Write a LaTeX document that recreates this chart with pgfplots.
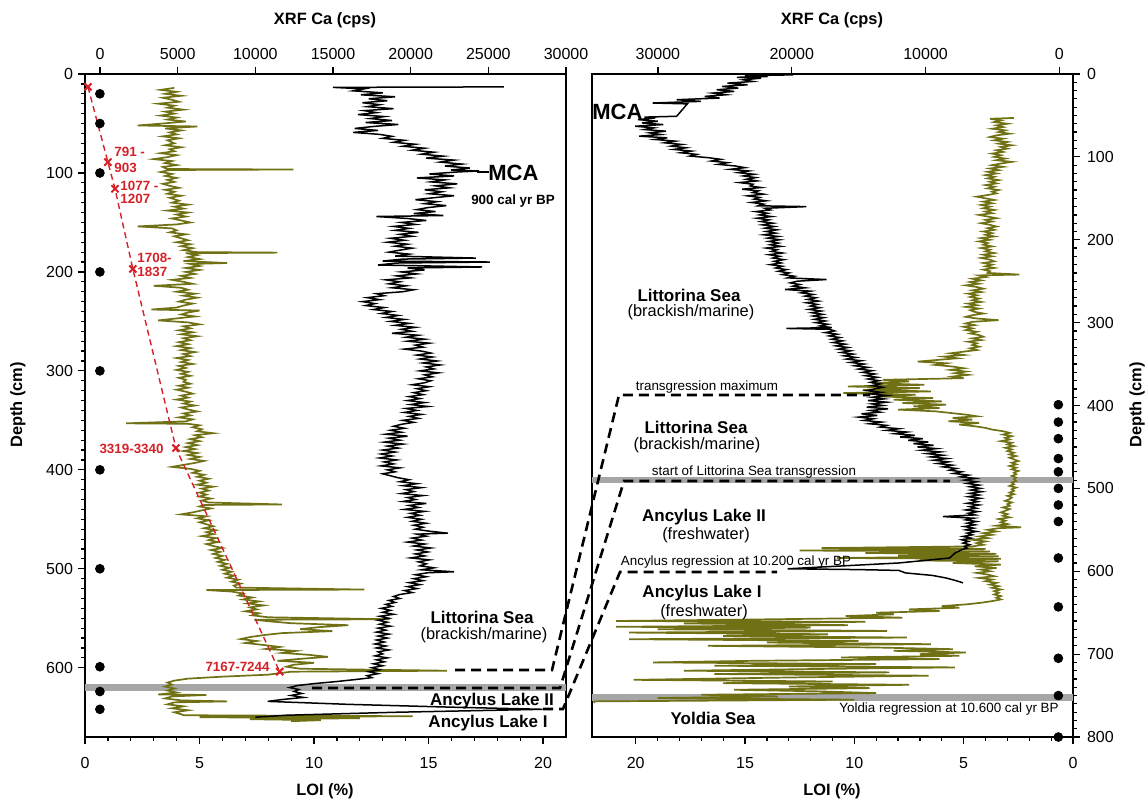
\documentclass[border=0pt]{standalone}
\usepackage{pgfplots}
\pgfplotsset{compat=1.18}
\usepackage{pgfplotstable}
\usepackage{fontspec}
\setmainfont{Liberation Sans}
\definecolor{loi}{RGB}{112,112,20}
\definecolor{agered}{RGB}{214,32,40}
\definecolor{band}{RGB}{166,166,166}

% ---------------- data (d = depth in cm, v = value) ----------------
\pgfplotstableread[row sep=\\]{
d v\\
14 3.9\\ 16 3.3\\ 18 4.0\\ 20 3.5\\ 22 4.2\\ 24 3.4\\ 26 3.8\\ 28 4.1\\ 30 3.2\\ 32 3.9\\ 34 3.6\\ 36 4.3\\ 38 3.5\\ 40 3.9\\ 42 3.3\\ 44 4.0\\ 46 3.6\\ 48 4.4\\ 50 3.4\\ 52 2.3\\ 53 4.9\\ 55 3.5\\ 57 4.2\\ 59 3.7\\ 61 4.0\\ 63 3.4\\ 65 4.1\\ 67 3.6\\ 70 3.9\\ 72 3.5\\ 74 4.2\\ 76 3.7\\ 78 3.9\\ 80 3.3\\ 82 4.0\\ 84 3.6\\ 86 3.0\\ 88 3.8\\ 90 3.5\\ 92 4.0\\ 94 3.4\\ 96 3.6\\ 96.5 9.1\\ 97 3.7\\ 99 3.3\\
101 3.8\\ 103 3.5\\ 105 4.0\\ 107 3.6\\ 109 3.9\\ 111 3.4\\ 113 3.7\\ 115 4.1\\ 117 3.5\\ 119 3.9\\ 121 3.6\\ 123 4.2\\ 125 3.7\\ 128 4.1\\ 130 3.8\\ 132 4.5\\ 134 3.9\\ 136 4.3\\ 138 3.6\\ 140 4.5\\ 142 4.0\\ 144 4.4\\ 146 3.8\\ 148 4.2\\ 150 4.6\\ 152 4.0\\ 154 2.3\\ 156 3.8\\ 158 4.0\\ 160 3.7\\ 162 4.4\\ 164 3.9\\ 166 4.2\\ 168 4.5\\ 170 4.0\\ 172 4.6\\ 174 4.2\\ 176 4.7\\ 178 4.3\\ 180 4.9\\ 180.5 8.4\\ 181 4.4\\ 183 4.9\\ 185 4.5\\ 187 5.0\\ 189 4.3\\ 191 6.2\\ 192 4.6\\ 194 5.0\\ 196 4.4\\ 198 5.0\\
200 4.4\\ 202 4.8\\ 204 4.2\\ 206 4.6\\ 208 3.8\\ 210 4.3\\ 212 4.7\\ 214 3.0\\ 216 4.2\\ 218 4.5\\ 220 4.0\\ 222 4.8\\ 224 4.3\\ 226 4.9\\ 228 4.4\\ 230 4.1\\ 232 4.7\\ 234 4.3\\ 236 4.0\\ 238 2.9\\ 239 5.0\\ 241 4.5\\ 243 4.2\\ 245 4.8\\ 247 4.0\\ 249 3.2\\ 251 4.5\\ 253 5.0\\ 255 4.3\\ 257 4.6\\ 259 4.1\\ 261 4.7\\ 263 4.2\\ 265 4.9\\ 267 4.3\\ 269 4.6\\ 271 4.1\\ 273 4.5\\ 275 4.0\\ 277 4.6\\ 279 4.2\\ 281 4.8\\ 283 4.3\\ 285 4.6\\ 287 4.0\\ 289 4.5\\ 291 4.2\\ 293 4.7\\ 295 4.1\\ 297 4.4\\ 299 4.0\\
301 4.5\\ 303 4.2\\ 305 4.6\\ 307 4.1\\ 309 4.4\\ 311 4.3\\ 313 4.6\\ 315 4.1\\ 317 4.5\\ 319 4.0\\ 321 4.4\\ 323 4.7\\ 325 4.2\\ 327 4.5\\ 329 4.0\\ 331 4.6\\ 333 4.3\\ 335 4.8\\ 337 4.2\\ 339 4.5\\ 341 4.9\\ 343 4.3\\ 345 4.6\\ 347 4.1\\ 349 4.7\\ 351 4.4\\ 353 1.8\\ 353.5 4.5\\ 355 5.0\\ 357 4.7\\ 359 5.1\\ 361 4.9\\ 363 5.6\\ 365 4.8\\ 367 5.1\\ 369 4.6\\ 371 5.0\\ 373 4.5\\ 375 4.9\\ 377 4.4\\ 379 4.8\\ 381 4.3\\ 383 4.9\\ 385 4.5\\ 387 5.0\\ 389 4.6\\ 391 5.2\\ 393 4.8\\ 395 4.3\\ 397 3.8\\ 399 4.6\\
401 5.0\\ 403 4.7\\ 405 5.2\\ 407 4.9\\ 409 5.4\\ 411 5.0\\ 413 5.3\\ 415 4.9\\ 417 5.6\\ 419 5.1\\ 421 5.4\\ 423 5.0\\ 425 5.3\\ 427 5.0\\ 429 5.5\\ 431 5.1\\ 433 5.4\\ 435 8.6\\ 435.5 5.2\\ 437 5.0\\ 439 5.5\\ 441 5.1\\ 443 4.7\\ 445 4.2\\ 447 5.3\\ 449 4.9\\ 451 5.4\\ 453 5.0\\ 455 5.3\\ 457 5.6\\ 459 5.2\\ 461 5.7\\ 463 5.3\\ 465 5.6\\ 467 5.1\\ 469 5.7\\ 471 5.4\\ 473 5.8\\ 475 5.3\\ 477 5.6\\ 479 6.0\\ 481 5.5\\ 483 5.9\\ 485 5.6\\ 487 6.0\\ 489 5.7\\ 491 6.1\\ 493 5.8\\ 495 6.2\\ 497 5.9\\ 499 6.3\\
501 6.0\\ 503 6.4\\ 505 6.1\\ 507 6.5\\ 509 6.2\\ 511 6.7\\ 513 6.4\\ 515 6.8\\ 517 6.5\\ 519 6.6\\ 521 12.2\\ 521.5 5.3\\ 523 6.4\\ 525 6.9\\ 527 6.7\\ 529 7.3\\ 531 6.9\\ 533 7.6\\ 535 7.1\\ 537 7.8\\ 539 7.2\\ 541 7.5\\ 543 7.0\\ 545 7.6\\ 547 7.3\\ 549 8.0\\ 551 13.3\\ 551.5 7.4\\ 553 8.0\\ 555 9.0\\ 557 11.5\\ 559 10.2\\ 561 9.4\\ 563 10.8\\ 565 8.6\\ 567 7.8\\ 569 7.2\\ 571 6.8\\ 573 7.5\\ 575 7.0\\ 577 7.8\\ 579 8.5\\ 581 7.9\\ 583 9.2\\ 585 8.6\\ 587 9.8\\ 589 10.6\\ 591 9.4\\ 593 8.4\\ 595 10.0\\ 597 9.1\\ 599 8.8\\
601 9.4\\ 603 15.8\\ 604 9.0\\ 607 8.0\\ 609 6.0\\ 611 4.5\\ 613 3.9\\ 615 3.6\\ 617 3.8\\ 619 3.5\\ 621 3.9\\ 623 3.6\\ 625 4.0\\ 627 3.2\\ 627.5 5.3\\ 629 3.8\\ 631 3.5\\ 633 4.2\\ 634 6.2\\ 635 3.9\\ 637 3.6\\ 639 4.3\\ 641 3.8\\ 643 4.5\\ 645 3.9\\ 647 4.2\\ 648 4.3\\ 649 14.3\\ 650 5.0\\ 651 12.0\\ 652 7.2\\ 653 10.3\\ 654 9.0\\
}\loiL

\pgfplotstableread[row sep=\\]{
d v\\
13 26000\\ 13.5 15000\\ 15 17000\\ 17 16300\\ 19 18200\\ 21 16800\\ 23 19000\\ 25 17300\\ 27 18500\\ 29 16900\\ 31 18000\\ 33 17200\\ 35 18900\\ 37 17000\\ 39 17800\\ 41 16600\\ 43 18300\\ 45 17400\\ 47 18800\\ 49 17100\\ 51 19200\\ 53 17600\\ 55 16400\\ 57 17900\\ 59 16300\\ 61 18000\\ 63 18800\\ 65 18200\\ 67 19600\\ 69 18900\\ 71 20300\\ 73 19500\\ 75 20900\\ 77 20100\\ 79 21500\\ 81 20700\\ 83 22100\\ 85 21000\\ 87 22800\\ 89 21900\\ 91 23300\\ 93 22200\\ 95 23800\\ 97 22600\\ 98 24400\\ 99 23000\\
101 21200\\ 103 22800\\ 105 20400\\ 107 22200\\ 109 21300\\ 111 23000\\ 113 21600\\ 115 22500\\ 117 20900\\ 119 22000\\ 121 21200\\ 123 22800\\ 125 21500\\ 127 20300\\ 129 21700\\ 131 20900\\ 133 22300\\ 135 21100\\ 137 20400\\ 139 21600\\ 141 20200\\ 143 22100\\ 144 17800\\ 146 19800\\ 148 21000\\ 150 19400\\ 152 20300\\ 154 18900\\ 156 19900\\ 158 19000\\ 160 20500\\ 162 19300\\ 164 20100\\ 166 18700\\ 168 19600\\ 170 18500\\ 172 19800\\ 174 19000\\ 176 20100\\ 178 19300\\ 180 18600\\ 182 19900\\ 184 19000\\ 186 24200\\ 187 19500\\ 189 18200\\ 190 25100\\ 191 19100\\ 193 17900\\ 195 24600\\ 196 19800\\ 198 20900\\
200 19400\\ 202 20400\\ 204 19100\\ 206 20000\\ 208 18400\\ 210 19300\\ 212 18600\\ 214 19700\\ 216 18800\\ 218 20200\\ 220 19500\\ 222 17800\\ 224 18300\\ 226 17200\\ 228 18000\\ 230 16900\\ 232 17700\\ 234 17100\\ 236 18300\\ 238 17600\\ 240 18800\\ 242 18100\\ 244 19200\\ 246 18400\\ 248 19600\\ 250 18700\\ 252 19900\\ 254 19000\\ 256 20300\\ 258 19400\\ 260 20100\\ 262 18800\\ 264 20500\\ 266 19700\\ 268 20900\\ 270 19800\\ 272 21200\\ 274 20300\\ 276 20800\\ 278 19600\\ 280 20700\\ 282 21300\\ 284 20400\\ 286 21400\\ 288 20600\\ 290 21700\\ 292 20800\\ 294 21900\\ 296 21000\\ 298 21500\\
300 20600\\ 302 21800\\ 304 20900\\ 306 21400\\ 308 20500\\ 310 21300\\ 312 20900\\ 314 20100\\ 316 21200\\ 318 20400\\ 320 21000\\ 322 20200\\ 324 20800\\ 326 19900\\ 328 20600\\ 330 19800\\ 332 20900\\ 334 20000\\ 336 21100\\ 338 19700\\ 340 20400\\ 342 19600\\ 344 20700\\ 346 19900\\ 348 20500\\ 350 19500\\ 352 20200\\ 354 19400\\ 356 18900\\ 358 19600\\ 360 18700\\ 362 19400\\ 364 18400\\ 366 19800\\ 368 18600\\ 370 19300\\ 372 18300\\ 374 19500\\ 376 18500\\ 378 19200\\ 380 18200\\ 382 19000\\ 384 18100\\ 386 18800\\ 388 18000\\ 390 19100\\ 392 18300\\ 394 18900\\ 396 18100\\ 398 19300\\
400 18500\\ 402 19000\\ 404 18200\\ 406 18700\\ 408 19200\\ 410 19900\\ 412 19300\\ 414 20400\\ 416 19500\\ 418 20700\\ 420 19700\\ 422 20200\\ 424 19400\\ 426 20800\\ 428 19800\\ 430 20300\\ 432 19500\\ 434 21000\\ 436 19900\\ 438 20500\\ 440 19600\\ 442 20900\\ 444 20000\\ 446 20600\\ 448 19800\\ 450 20700\\ 452 20100\\ 454 21000\\ 456 20200\\ 458 20800\\ 460 20300\\ 462 21200\\ 464 22400\\ 465 20400\\ 467 21000\\ 469 20100\\ 471 20700\\ 473 19800\\ 475 20900\\ 477 20200\\ 479 21300\\ 481 20400\\ 483 21100\\ 485 20300\\ 487 20900\\ 489 20000\\ 491 21200\\ 493 20500\\ 495 21000\\ 497 20600\\ 499 21500\\
501 20700\\ 503 22800\\ 504 21100\\ 506 20300\\ 508 21000\\ 510 20200\\ 512 20800\\ 514 19900\\ 516 20600\\ 518 19800\\ 520 20400\\ 522 19600\\ 524 20100\\ 526 19300\\ 528 18900\\ 530 19300\\ 532 18600\\ 534 19000\\ 536 18400\\ 538 18800\\ 540 18100\\ 542 18700\\ 544 18200\\ 546 18900\\ 548 18000\\ 550 18600\\ 552 17900\\ 554 18500\\ 556 18000\\ 558 18700\\ 560 17900\\ 562 18400\\ 564 17800\\ 566 18600\\ 568 17900\\ 570 18500\\ 572 17800\\ 574 18300\\ 576 17700\\ 578 18400\\ 580 17800\\ 582 18600\\ 584 17900\\ 586 18200\\ 588 17700\\ 590 18500\\ 592 17800\\ 594 18300\\ 596 17600\\ 598 18200\\
600 17500\\ 602 18000\\ 604 17300\\ 606 17900\\ 608 17200\\ 610 17500\\ 612 16400\\ 614 15200\\ 616 13800\\ 618 12700\\ 620 12200\\ 622 12800\\ 624 12500\\ 626 13000\\ 628 12300\\ 630 13100\\ 632 11800\\ 634 10800\\ 637 16000\\ 640 23000\\ 642 28500\\ 645 19000\\ 648 12000\\ 650 10000\\
}\xrfL

\pgfplotstableread[row sep=\\]{
d v\\
13 0.13\\ 89 1.0\\ 116 1.31\\ 197 2.09\\ 378 3.97\\ 604 8.5\\
}\ageL

\pgfplotstableread[row sep=\\]{
d v\\
20 0.65\\ 50 0.65\\ 100 0.65\\ 200 0.65\\ 300 0.65\\ 400 0.65\\ 500 0.65\\ 599 0.65\\ 624 0.65\\ 642 0.65\\
}\dotL

\pgfplotstableread[row sep=\\]{
d v\\
53 2.7\\ 54 3.8\\ 56 3.3\\ 58 3.6\\ 60 3.0\\ 62 3.5\\ 64 3.2\\ 66 3.7\\ 68 3.1\\ 70 3.4\\ 72 2.9\\ 74 3.5\\ 76 3.8\\ 78 3.2\\ 80 3.6\\ 82 3.0\\ 84 3.4\\ 86 2.8\\ 88 3.3\\ 90 3.0\\ 92 3.5\\ 94 3.2\\ 96 3.7\\ 98 3.3\\
100 3.6\\ 102 3.1\\ 104 3.5\\ 106 2.8\\ 108 3.3\\ 110 3.7\\ 112 3.2\\ 114 3.8\\ 116 3.4\\ 118 3.9\\ 120 3.5\\ 122 4.0\\ 124 3.6\\ 126 3.9\\ 128 3.4\\ 130 3.8\\ 132 3.5\\ 134 4.0\\ 136 3.6\\ 138 3.9\\ 140 3.4\\ 142 3.7\\ 144 3.5\\ 146 3.9\\ 148 4.4\\ 150 4.0\\ 152 3.6\\ 154 4.1\\ 156 3.7\\ 158 4.2\\ 160 3.8\\ 162 4.1\\ 164 3.6\\ 166 4.0\\ 168 3.7\\ 170 4.3\\ 172 3.9\\ 174 3.5\\ 176 4.0\\ 178 3.7\\ 180 4.2\\ 182 3.8\\ 184 3.5\\ 186 3.9\\ 188 3.6\\ 190 4.1\\ 192 3.7\\ 194 4.0\\ 196 3.6\\ 198 4.2\\
200 3.8\\ 202 4.3\\ 204 3.9\\ 206 4.1\\ 208 3.7\\ 210 4.2\\ 212 3.8\\ 214 4.0\\ 216 3.6\\ 218 4.1\\ 220 3.7\\ 222 4.2\\ 224 3.8\\ 226 3.6\\ 228 4.1\\ 230 3.7\\ 232 4.0\\ 234 3.6\\ 236 4.1\\ 238 3.8\\ 240 3.9\\ 242 2.45\\ 243 4.3\\ 245 4.0\\ 247 4.6\\ 249 4.2\\ 251 4.7\\ 253 4.3\\ 255 4.9\\ 257 4.4\\ 259 4.1\\ 261 4.6\\ 263 4.2\\ 265 4.8\\ 267 4.4\\ 269 4.7\\ 271 4.3\\ 273 4.6\\ 275 4.2\\ 277 4.8\\ 279 4.4\\ 281 4.9\\ 283 4.3\\ 285 4.7\\ 287 4.5\\ 289 4.1\\ 291 4.6\\ 293 4.9\\ 295 4.4\\ 297 3.4\\ 299 4.6\\
301 4.9\\ 303 4.5\\ 305 5.0\\ 307 4.6\\ 309 4.9\\ 311 4.4\\ 313 4.7\\ 315 4.3\\ 317 4.1\\ 319 4.6\\ 321 4.2\\ 323 4.8\\ 325 4.4\\ 327 4.6\\ 329 4.3\\ 331 4.7\\ 333 4.4\\ 335 5.0\\ 337 5.6\\ 339 5.0\\ 341 5.9\\ 343 5.3\\ 345 6.2\\ 347 7.1\\ 349 5.8\\ 351 6.3\\ 353 5.5\\ 355 5.0\\ 357 5.6\\ 359 4.9\\ 361 5.4\\ 363 4.8\\ 365 5.5\\ 367 5.0\\ 369 8.7\\ 371 7.5\\ 373 9.2\\ 375 6.8\\ 377 10.3\\ 379 7.0\\ 381 9.6\\ 383 6.5\\ 385 10.5\\ 387 7.2\\ 389 9.0\\ 391 6.4\\ 393 8.2\\ 395 6.0\\ 397 7.8\\ 399 5.8\\
401 7.3\\ 403 6.1\\ 405 8.0\\ 407 6.3\\ 409 5.6\\ 411 4.9\\ 413 4.4\\ 415 5.5\\ 417 4.6\\ 419 5.7\\ 421 4.3\\ 423 5.2\\ 425 4.5\\ 427 4.0\\ 429 3.7\\ 431 3.2\\ 433 2.9\\ 435 3.2\\ 437 2.8\\ 439 3.1\\ 441 2.9\\ 443 3.3\\ 445 2.8\\ 447 3.0\\ 449 2.7\\ 451 3.1\\ 453 2.8\\ 455 3.0\\ 457 2.7\\ 459 2.9\\ 461 2.6\\ 463 2.9\\ 465 2.7\\ 467 2.5\\ 469 2.8\\ 471 2.6\\ 473 2.9\\ 475 2.6\\ 477 2.8\\ 479 2.5\\ 481 2.7\\ 483 2.6\\ 485 2.8\\ 487 2.6\\ 489 2.7\\ 491 2.6\\ 493 2.8\\ 495 2.7\\ 497 2.9\\ 499 2.6\\
501 2.8\\ 503 2.7\\ 505 2.9\\ 507 2.7\\ 509 3.0\\ 511 2.8\\ 513 2.9\\ 515 3.1\\ 517 2.8\\ 519 3.0\\ 521 2.9\\ 523 3.2\\ 525 2.9\\ 527 3.1\\ 529 3.3\\ 531 3.0\\ 533 3.2\\ 535 2.9\\ 537 3.4\\ 539 3.1\\ 541 3.3\\ 543 3.0\\ 545 3.5\\ 547 2.37\\ 548 3.4\\ 550 3.9\\ 552 3.5\\ 554 4.1\\ 556 3.7\\ 558 4.3\\ 560 3.9\\ 562 4.6\\ 564 4.0\\ 566 4.4\\ 568 4.1\\ 570 4.6\\ 572 11.5\\ 573 4.0\\ 575 12.5\\ 576 3.8\\ 578 9.5\\ 579 3.5\\ 581 8.0\\ 582 3.4\\ 584 10.8\\ 585 3.3\\ 587 7.0\\ 588 3.4\\ 590 5.5\\ 592 3.3\\ 594 4.5\\ 596 3.5\\ 598 4.2\\
600 3.8\\ 602 4.4\\ 604 3.9\\ 606 3.6\\ 608 4.3\\ 610 3.7\\ 612 4.0\\ 614 3.5\\ 616 3.8\\ 618 3.4\\ 620 3.7\\ 622 3.3\\ 624 3.6\\ 626 3.4\\ 628 3.6\\ 630 3.3\\ 632 3.5\\ 634 3.3\\ 636 3.7\\ 638 4.2\\ 640 4.9\\ 642 6.0\\ 644 5.2\\ 646 7.5\\ 648 6.1\\ 650 9.0\\ 652 8.2\\ 654 10.4\\ 656 7.8\\ 658 14.0\\ 660 20.9\\ 661 9.5\\ 663 17.8\\ 665 10.3\\ 667 20.9\\ 668 12.0\\ 670 19.0\\ 672 8.5\\ 674 20.3\\ 676 11.2\\ 678 16.0\\ 680 7.6\\ 682 20.3\\ 684 9.8\\ 686 14.0\\ 688 6.5\\ 690 16.7\\ 692 9.0\\ 694 5.5\\ 696 8.2\\ 698 4.9\\
700 7.0\\ 702 5.2\\ 704 10.6\\ 706 6.1\\ 708 14.5\\ 710 19.2\\ 712 9.0\\ 714 16.4\\ 716 5.4\\ 718 12.0\\ 720 17.8\\ 722 8.4\\ 724 16.4\\ 726 6.6\\ 728 12.5\\ 731 20.1\\ 733 11.0\\ 735 16.0\\ 737 7.5\\ 739 13.0\\ 741 9.3\\ 743 15.5\\ 745 11.5\\ 747 9.0\\ 749 17.0\\ 751 13.5\\ 753 19.0\\ 755 10.0\\ 757 21.9\\ 759 21.9\\
}\loiR

\pgfplotstableread[row sep=\\]{
d v\\
1 19900\\ 2 23500\\ 3 21800\\ 4 24100\\ 5 22300\\ 7 23600\\ 9 22900\\ 11 24800\\ 13 23300\\ 15 25200\\ 17 24000\\ 19 25600\\ 21 24300\\ 23 25900\\ 25 24900\\ 27 26500\\ 29 25400\\ 31 28600\\ 33 26800\\ 35 30400\\ 36 27800\\ 51 28600\\ 52 31000\\ 53 30200\\ 55 31500\\ 57 30000\\ 59 31200\\ 61 29600\\ 63 31700\\ 65 30300\\ 67 31000\\ 69 29400\\ 71 30600\\ 73 29800\\ 75 31400\\ 77 29300\\ 79 30200\\ 81 28700\\ 83 29500\\ 85 28200\\ 87 29000\\ 89 27900\\ 91 28800\\ 93 27500\\ 95 28300\\ 97 27100\\ 99 27600\\
101 26200\\ 103 25300\\ 105 26000\\ 107 24800\\ 109 25500\\ 111 24200\\ 113 23500\\ 115 24600\\ 117 23200\\ 119 24000\\ 121 22800\\ 123 23600\\ 125 22700\\ 127 23400\\ 129 22600\\ 131 23900\\ 133 22900\\ 135 23100\\ 137 22300\\ 139 23700\\ 141 22500\\ 143 22900\\ 145 22100\\ 147 23300\\ 149 22400\\ 151 22800\\ 153 21900\\ 155 23000\\ 157 22100\\ 159 22500\\ 160 18900\\ 162 22000\\ 164 21600\\ 166 22700\\ 168 21800\\ 170 22400\\ 172 21500\\ 174 22600\\ 176 21700\\ 178 22300\\ 180 21400\\ 182 22200\\ 184 21300\\ 186 22000\\ 188 21100\\ 190 21900\\ 192 21200\\ 194 22100\\ 196 21000\\ 198 21800\\
200 20900\\ 202 21700\\ 204 21000\\ 206 21600\\ 208 20800\\ 210 21900\\ 212 21100\\ 214 21500\\ 216 20700\\ 218 21700\\ 220 20900\\ 222 21400\\ 224 20600\\ 226 21300\\ 228 20800\\ 230 21600\\ 232 20700\\ 234 21200\\ 236 20400\\ 238 21000\\ 240 20200\\ 242 20700\\ 244 19800\\ 246 20300\\ 248 17400\\ 250 19600\\ 252 20100\\ 254 19400\\ 256 19900\\ 258 19000\\ 260 20500\\ 262 18600\\ 264 19300\\ 266 18400\\ 268 19000\\ 270 18200\\ 272 18800\\ 274 18000\\ 276 18900\\ 278 18100\\ 280 18600\\ 282 17900\\ 284 18700\\ 286 17800\\ 288 18500\\ 290 17700\\ 292 18400\\ 294 17600\\ 296 18300\\ 298 17500\\
300 18200\\ 302 17300\\ 304 17900\\ 306 17000\\ 307 20400\\ 308 17200\\ 310 16800\\ 312 17500\\ 314 16600\\ 316 17200\\ 318 16400\\ 320 17000\\ 322 16200\\ 324 16900\\ 326 16000\\ 328 16700\\ 330 15800\\ 332 16500\\ 334 15600\\ 336 16300\\ 338 15400\\ 340 16100\\ 342 15200\\ 344 15900\\ 346 14800\\ 348 15600\\ 350 14600\\ 352 15300\\ 354 14300\\ 356 15000\\ 358 14000\\ 360 14700\\ 362 13800\\ 364 14500\\ 366 13600\\ 368 14300\\ 370 13500\\ 372 14100\\ 374 13400\\ 376 14000\\ 378 13200\\ 380 13800\\ 382 14400\\ 384 13300\\ 386 14100\\ 388 12900\\ 390 14000\\ 392 13100\\ 394 14300\\ 396 12900\\ 398 14000\\
400 13200\\ 402 14400\\ 404 12800\\ 406 14100\\ 408 13400\\ 410 14800\\ 412 13600\\ 414 15000\\ 416 13900\\ 418 14600\\ 420 13300\\ 422 14200\\ 424 12900\\ 426 13400\\ 428 12000\\ 430 12900\\ 432 11400\\ 434 12300\\ 436 10800\\ 438 11900\\ 440 10200\\ 442 11300\\ 444 9800\\ 446 10900\\ 448 9400\\ 450 10600\\ 452 9200\\ 454 10300\\ 456 8900\\ 458 9900\\ 460 8700\\ 462 9600\\ 464 8400\\ 466 9400\\ 468 8300\\ 470 9100\\ 472 8000\\ 474 8700\\ 476 7700\\ 478 8200\\ 480 7300\\ 482 7900\\ 484 6800\\ 486 7400\\ 488 6300\\ 490 7100\\ 492 6200\\ 494 6900\\ 496 6000\\ 498 6700\\
500 5900\\ 502 6600\\ 504 5800\\ 506 6700\\ 508 6000\\ 510 6800\\ 512 5900\\ 514 6600\\ 516 6100\\ 518 6900\\ 520 6000\\ 522 6700\\ 524 6200\\ 526 7000\\ 528 6100\\ 530 6800\\ 532 6300\\ 534 8700\\ 536 6400\\ 538 7000\\ 540 6200\\ 542 6900\\ 544 6300\\ 546 7100\\ 548 6400\\ 550 7000\\ 552 6200\\ 554 6900\\ 556 6500\\ 558 7200\\ 560 6600\\ 562 7300\\ 564 6800\\ 566 7200\\ 568 6700\\ 570 7100\\ 572 6900\\ 574 7300\\ 578 7800\\ 584 8200\\ 590 12000\\ 597 20300\\ 598 15000\\ 599 12000\\ 602 11500\\ 605 9500\\ 608 8500\\ 611 7800\\ 614 7200\\
}\xrfR

\pgfplotstableread[row sep=\\]{
d v\\
399 0.67\\ 420 0.67\\ 440 0.67\\ 464 0.67\\ 480 0.67\\ 500 0.67\\ 520 0.67\\ 540 0.67\\ 584 0.67\\ 643 0.67\\ 705 0.67\\ 750 0.67\\ 800 0.67\\
}\dotR

\pgfplotsset{
  base/.style={scale only axis, width=240.5pt, height=331.5pt, y dir=reverse,
    tick align=outside, major tick length=3.5pt, minor tick length=2pt,
    axis line style={line width=0.7pt},
    every tick/.style={black, line width=0.6pt},
    tick label style={font=\fontsize{8}{9}\selectfont},
    /pgf/number format/assume math mode=true,
    /pgf/number format/1000 sep={},
    scaled ticks=false},
}

\begin{document}
\begin{tikzpicture}
\path[use as bounding box] (0,0) rectangle (573.5pt,400pt);

% ===== left panel: LOI =====
\begin{axis}[base, at={(42.5pt,31.5pt)}, anchor=south west,
  xmin=0, xmax=21, ymin=0, ymax=670,
  xtick={0,5,...,20}, minor x tick num=4, xtick pos=left,
  xticklabel shift=3pt, yticklabel shift=-1pt,
  ytick={0,100,...,600}, minor y tick num=9, ytick pos=left]
\addplot[band, line width=3.3pt] coordinates {(0,620) (21,620)};
\addplot[loi, line width=0.85pt] table[x=v,y=d] {\loiL};
\addplot[agered, dash pattern=on 3pt off 2pt, line width=0.7pt, mark=x, mark size=2.5pt, mark options={solid, line width=1pt}] table[x=v,y=d] {\ageL};
\addplot[only marks, mark=*, mark size=2.2pt, black] table[x=v,y=d] {\dotL};
\end{axis}
% ===== left panel: XRF =====
\begin{axis}[base, at={(42.5pt,31.5pt)}, anchor=south west,
  xmin=-965, xmax=30000, ymin=0, ymax=670,
  axis x line*=top, axis y line=none, xtick={0,5000,...,30000}]
\addplot[black, line width=0.75pt] table[x=v,y=d] {\xrfL};
\end{axis}

% ===== right panel: LOI =====
\begin{axis}[base, at={(296pt,31.5pt)}, anchor=south west, clip=false,
  x dir=reverse, xmin=0, xmax=22, ymin=0, ymax=800,
  xtick={0,5,...,20}, minor x tick num=4, xtick pos=left,
  xticklabel shift=3pt,
  ytick={0,100,...,800}, minor y tick num=9, ytick pos=right]
\addplot[band, line width=3.3pt] coordinates {(0,490) (22,490)};
\addplot[band, line width=3.3pt] coordinates {(0,752) (22,752)};
\addplot[loi, line width=0.85pt] table[x=v,y=d] {\loiR};
\addplot[only marks, mark=*, mark size=2.2pt, black] table[x=v,y=d] {\dotR};
\end{axis}
% ===== right panel: XRF =====
\begin{axis}[base, at={(296pt,31.5pt)}, anchor=south west,
  x dir=reverse, xmin=-1015, xmax=34925, ymin=0, ymax=800,
  axis x line*=top, axis y line=none, xtick={0,10000,20000,30000}]
\addplot[black, line width=0.75pt] table[x=v,y=d] {\xrfR};
\end{axis}

% ===== annotations (pixel coordinates of the 1147x800 reference) =====
\begin{scope}[x=0.5pt, y=-0.5pt, shift={(0pt,400pt)}]
\tikzset{lab/.style={font=\bfseries\fontsize{8.2}{9}\selectfont, inner sep=0pt},
  zone/.style={font=\bfseries\fontsize{8.5}{10}\selectfont, inner sep=0pt},
  sub/.style={font=\fontsize{8.2}{10}\selectfont, inner sep=0pt},
  small/.style={font=\fontsize{6.7}{8}\selectfont, inner sep=0pt},
  age/.style={font=\bfseries\fontsize{6.7}{8}\selectfont, text=agered, inner sep=0pt},
  corr/.style={line width=1.3pt, dash pattern=on 5pt off 3pt}}
% axis titles
\node[lab] at (325,20) {XRF Ca (cps)};
\node[lab] at (832,20) {XRF Ca (cps)};
\node[lab] at (325,791) {LOI (\%)};
\node[lab] at (832,791) {LOI (\%)};
\node[lab, rotate=90] at (18,405) {Depth (cm)};
\node[lab, rotate=90] at (1137,405) {Depth (cm)};
% age labels
\node[age, anchor=west] at (114,152) {791 -};
\node[age, anchor=west] at (114,168) {903};
\node[age, anchor=west] at (120,186) {1077 -};
\node[age, anchor=west] at (120,199) {1207};
\node[age, anchor=west] at (137,258) {1708-};
\node[age, anchor=west] at (137,272) {1837};
\node[age, anchor=east] at (164,449) {3319-3340};
\node[age, anchor=east] at (270,667) {7167-7244};
% left panel texts
\draw[line width=0.6pt] (477,172) -- (489,172);
\node[font=\bfseries\fontsize{11}{12}\selectfont, inner sep=0pt, anchor=west] at (488,173) {MCA};
\node[font=\bfseries\fontsize{6.7}{8}\selectfont, inner sep=0pt] at (513,201) {900 cal yr BP};
\node[zone] at (482,617) {Littorina Sea};
\node[sub] at (484,635) {(brackish/marine)};
\node[zone] at (492,701) {Ancylus Lake II};
\node[zone] at (488,723) {Ancylus Lake I};
% right panel texts
\node[font=\bfseries\fontsize{11}{12}\selectfont, inner sep=0pt, anchor=west] at (592,112) {MCA};
\node[zone] at (689,295) {Littorina Sea};
\node[sub] at (691,312) {(brackish/marine)};
\node[small] at (707,387) {transgression maximum};
\node[zone] at (696,427) {Littorina Sea};
\node[sub] at (697,445) {(brackish/marine)};
\node[small] at (754,472) {start of Littorina Sea transgression};
\node[zone] at (704,517) {Ancylus Lake II};
\node[sub] at (706,535) {(freshwater)};
\node[small] at (736,562) {Ancylus regression at 10.200 cal yr BP};
\node[zone] at (702,593) {Ancylus Lake I};
\node[sub] at (704,612) {(freshwater)};
\node[zone] at (713,718) {Yoldia Sea};
\node[small, anchor=east] at (1059,709) {Yoldia regression at 10.600 cal yr BP};
% correlation lines
\draw[corr] (455,670) -- (552,670) -- (619,395) -- (870,395);
\draw[corr] (312,688) -- (560,688) -- (624,481) -- (950,481);
\draw[corr] (543,709) -- (563,709) -- (620,572) -- (777,572);
\end{scope}
\end{tikzpicture}
\end{document}
